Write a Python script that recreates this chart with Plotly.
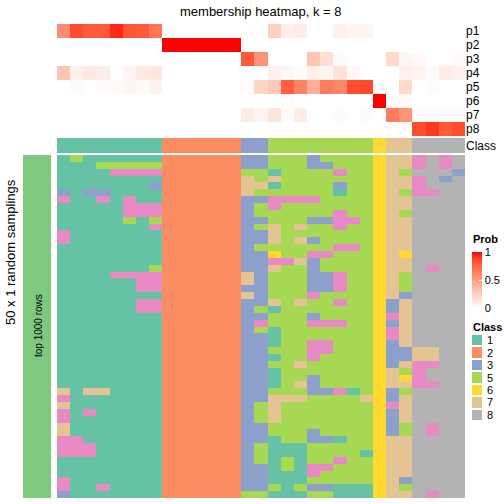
import plotly.graph_objects as go
import numpy as np

# ---------------- data ----------------
prob_rows = ["p1", "p2", "p3", "p4", "p5", "p6", "p7", "p8"]

p1 = [0.58, 0.86, 0.80, 0.80, 0.93, 0.82, 0.80, 0.68, 0, 0, 0, 0, 0, 0, 0, 0, 0.25, 0.08, 0.10, 0, 0, 0.08, 0.05, 0.05, 0, 0, 0, 0, 0, 0, 0]
p2 = [0, 0, 0, 0, 0, 0, 0, 0, 1, 1, 1, 1, 1, 1, 0, 0, 0, 0, 0, 0, 0, 0, 0, 0, 0, 0, 0, 0, 0, 0, 0]
p3 = [0, 0, 0, 0, 0, 0, 0, 0, 0, 0, 0, 0, 0, 0, 0.80, 0.55, 0, 0, 0, 0.30, 0.17, 0.02, 0, 0, 0, 0.20, 0.04, 0.03, 0, 0, 0.02]
p4 = [0.30, 0.08, 0.12, 0.10, 0, 0.05, 0.12, 0.13, 0, 0, 0, 0, 0, 0, 0, 0, 0.08, 0.04, 0.02, 0.08, 0.05, 0.15, 0.04, 0, 0, 0, 0.08, 0.06, 0.02, 0.10, 0.07]
p5 = [0, 0.02, 0, 0.02, 0.03, 0.05, 0.03, 0.07, 0, 0, 0, 0, 0, 0, 0.02, 0.22, 0.28, 0.78, 0.62, 0.42, 0.65, 0.60, 0.85, 0.87, 0, 0, 0.20, 0, 0.02, 0, 0]
p6 = [0, 0, 0, 0, 0, 0, 0, 0, 0, 0, 0, 0, 0, 0, 0, 0, 0, 0.02, 0, 0, 0, 0, 0, 0, 1, 0, 0.03, 0, 0, 0, 0]
p7 = [0, 0, 0, 0, 0, 0, 0, 0, 0, 0, 0, 0, 0, 0, 0.10, 0.05, 0.14, 0.02, 0.10, 0, 0, 0.02, 0, 0.02, 0, 0.65, 0.55, 0.02, 0.03, 0.02, 0.02]
p8 = [0, 0, 0, 0, 0, 0, 0, 0, 0, 0, 0, 0, 0, 0, 0, 0, 0, 0, 0, 0, 0, 0, 0, 0, 0, 0, 0, 0.85, 0.90, 0.80, 0.85]

column_class = "11111111 222222 33 55555555 6 77 8888"

# 50 random samplings x 31 samples (class labels)
sampling_classes = [
    "15111111 222222 33 55535555 6 77 4848",
    "11155555 222222 33 55533555 6 77 4848",
    "11114444 222222 55 15555455 6 75 8883",
    "11111111 222222 75 75555555 6 77 4838",
    "11111113 222222 77 15555355 6 77 4888",
    "31331111 222222 75 55555155 6 75 4488",
    "41141411 222222 33 44445555 6 77 8888",
    "11111444 222222 35 45555555 6 77 8888",
    "11111444 222222 35 55555455 6 75 8888",
    "11111515 222222 33 55533445 6 77 8888",
    "11111114 222222 35 75755455 6 77 8888",
    "41111111 222222 33 75555555 6 77 8888",
    "41111111 222222 33 75735555 6 77 8888",
    "11111111 222222 35 55555445 6 77 8888",
    "11111111 222222 33 65544555 6 76 8888",
    "11111111 222222 33 44735555 6 77 8888",
    "11111115 222222 33 75535555 6 77 8488",
    "11114444 222222 73 55533455 6 75 8888",
    "11111144 222222 73 55533455 6 75 8888",
    "11111144 222222 33 55533455 6 75 8888",
    "11111111 222222 73 55545555 6 73 8888",
    "11111144 222222 33 75755455 6 37 8888",
    "11111144 222222 35 15555555 6 37 8888",
    "11111111 222222 33 55535555 6 47 8888",
    "11111111 222222 34 55544455 6 37 8888",
    "11111111 222222 35 15555555 6 47 8888",
    "11111111 222222 33 15555555 6 47 8888",
    "11111111 222222 33 15544555 6 37 8888",
    "11111111 222222 33 55544555 6 33 7788",
    "11111111 222222 33 15545555 6 33 7788",
    "11111111 222222 33 55755555 6 37 4488",
    "11111111 222222 33 15555555 6 75 4888",
    "11111111 222222 33 15535555 6 76 4888",
    "11111111 222222 33 15735555 6 77 4488",
    "71771111 222222 33 55533415 6 35 8888",
    "41111111 222222 33 77755557 6 37 8888",
    "71111111 222222 35 75555555 6 47 8888",
    "41411111 222222 35 75555555 6 37 8888",
    "41111111 222222 35 75555555 6 37 8888",
    "71111111 222222 33 55555555 6 35 8488",
    "71111111 222222 33 55535555 6 35 8488",
    "44111111 222222 33 15533155 6 77 8888",
    "44411111 222222 35 11155555 6 77 8888",
    "44411111 222222 35 11155551 6 77 8888",
    "11111111 222222 35 15155455 6 77 8888",
    "11111111 222222 33 15144555 6 77 8888",
    "11111111 222222 33 11145555 6 77 8888",
    "41111111 222222 33 11155555 6 73 8888",
    "41141111 222222 33 51533111 6 75 8888",
    "31111111 222222 55 11155111 6 77 8488",
]

legend_classes = [1, 2, 3, 5, 6, 7, 8]
class_colors = {1: "#66C2A5", 2: "#FC8D62", 3: "#8DA0CB", 4: "#E78AC3",
                5: "#A6D854", 6: "#FFD92F", 7: "#E5C494", 8: "#B3B3B3"}

# ---------------- helpers ----------------
def parse(s):
    return [int(ch) for ch in s.replace(" ", "")]

prob = np.array([p1, p2, p3, p4, p5, p6, p7, p8])
ncol = prob.shape[1]
cls_row = np.array([parse(column_class)])
samp = np.array([parse(s) for s in sampling_classes])

disc = []
for k in range(1, 9):
    disc.append([(k - 1) / 8, class_colors[k]])
    disc.append([k / 8, class_colors[k]])

prob_scale = [[0, "#FFFFFF"], [0.25, "rgb(255,207,191)"], [0.5, "rgb(255,158,129)"],
              [0.75, "rgb(255,103,70)"], [0.875, "rgb(255,70,40)"], [1, "#FF0000"]]

W = H = 504
def px(x):
    return x / W
def py(y):
    return 1 - y / H

FONT = "Liberation Sans, Arial, sans-serif"

fig = go.Figure()

# top membership heatmap
fig.add_trace(go.Heatmap(
    z=prob, x=list(range(ncol)), y=list(range(8)), zmin=0, zmax=1,
    colorscale=prob_scale, xaxis="x", yaxis="y", hoverinfo="skip",
    colorbar=dict(x=px(472), xanchor="left", xpad=0, y=py(252), yanchor="top", ypad=0,
                  len=56, lenmode="pixels", thickness=10, thicknessmode="pixels",
                  outlinewidth=0, tickvals=[0, 0.5, 1], ticktext=["0", "0.5", "1"],
                  ticks="inside", ticklen=3, tickcolor="white",
                  tickfont=dict(size=11, family=FONT, color="black")),
))

# class annotation bar
fig.add_trace(go.Heatmap(
    z=cls_row, x=list(range(ncol)), y=[0], zmin=0.5, zmax=8.5,
    colorscale=disc, showscale=False, xaxis="x2", yaxis="y2", hoverinfo="skip"))

# sampling heatmap
fig.add_trace(go.Heatmap(
    z=samp, x=list(range(ncol)), y=list(range(len(samp))), zmin=0.5, zmax=8.5,
    colorscale=disc, showscale=False, xaxis="x3", yaxis="y3", hoverinfo="skip"))

# left row-group bar
fig.add_trace(go.Heatmap(
    z=[[1]], zmin=0, zmax=1, colorscale=[[0, "#7FC97F"], [1, "#7FC97F"]],
    showscale=False, xaxis="x4", yaxis="y4", hoverinfo="skip"))

# class legend swatches
fig.add_trace(go.Heatmap(
    z=[[c] for c in legend_classes], y=list(range(len(legend_classes))), zmin=0.5, zmax=8.5,
    colorscale=disc, showscale=False, ygap=2, xaxis="x5", yaxis="y5", hoverinfo="skip"))

hid = dict(showgrid=False, zeroline=False, showticklabels=False, ticks="", showline=False)

fig.update_layout(
    width=W, height=H, margin=dict(l=0, r=0, t=0, b=0),
    paper_bgcolor="white", plot_bgcolor="white", showlegend=False,
    font=dict(family=FONT, color="black"),
    xaxis=dict(domain=[px(57), px(465)], range=[-0.5, ncol - 0.5], anchor="y", **hid),
    yaxis=dict(domain=[py(136), py(24)], range=[7.5, -0.5], anchor="x", side="right",
               showgrid=False, zeroline=False, ticks="", showline=False,
               tickvals=list(range(8)), ticktext=prob_rows, tickfont=dict(size=12)),
    xaxis2=dict(domain=[px(57), px(465)], range=[-0.5, ncol - 0.5], anchor="y2", **hid),
    yaxis2=dict(domain=[py(153), py(138)], range=[-0.5, 0.5], anchor="x2", side="right",
                showgrid=False, zeroline=False, ticks="", showline=False,
                tickvals=[0], ticktext=["Class"], tickfont=dict(size=12)),
    xaxis3=dict(domain=[px(57), px(465)], range=[-0.5, ncol - 0.5], anchor="y3", **hid),
    yaxis3=dict(domain=[py(498), py(155)], range=[len(samp) - 0.5, -0.5], anchor="x3", **hid),
    xaxis4=dict(domain=[px(23), px(51)], range=[-0.5, 0.5], anchor="y4", **hid),
    yaxis4=dict(domain=[py(498), py(155)], range=[-0.5, 0.5], anchor="x4", **hid),
    xaxis5=dict(domain=[px(472), px(482)], range=[-0.5, 0.5], anchor="y5", **hid),
    yaxis5=dict(domain=[py(421), py(334)], range=[len(legend_classes) - 0.5, -0.5], anchor="x5", **hid),
)

ann = [
    dict(text="membership heatmap, k = 8", x=px(261), y=py(11), xref="paper", yref="paper",
         showarrow=False, font=dict(size=13), xanchor="center", yanchor="middle"),
    dict(text="50 x 1 random samplings", x=px(10), y=py(252), xref="paper", yref="paper",
         showarrow=False, textangle=-90, font=dict(size=13), xanchor="center", yanchor="middle"),
    dict(text="top 1000 rows", x=px(38), y=py(326), xref="paper", yref="paper",
         showarrow=False, textangle=-90, font=dict(size=10), xanchor="center", yanchor="middle"),
    dict(text="<b>Prob</b>", x=px(471), y=py(239), xref="paper", yref="paper",
         showarrow=False, font=dict(size=11), xanchor="left", yanchor="middle"),
    dict(text="<b>Class</b>", x=px(471), y=py(327), xref="paper", yref="paper",
         showarrow=False, font=dict(size=11), xanchor="left", yanchor="middle"),
]
for i, c in enumerate(legend_classes):
    ann.append(dict(text=str(c), x=px(485), y=i, xref="paper", yref="y5",
                    showarrow=False, font=dict(size=11), xanchor="left", yanchor="middle"))
fig.update_layout(annotations=ann)

fig.write_html("out.html", config={"displayModeBar": False, "staticPlot": True},
               post_script="document.body.style.margin='0';")
